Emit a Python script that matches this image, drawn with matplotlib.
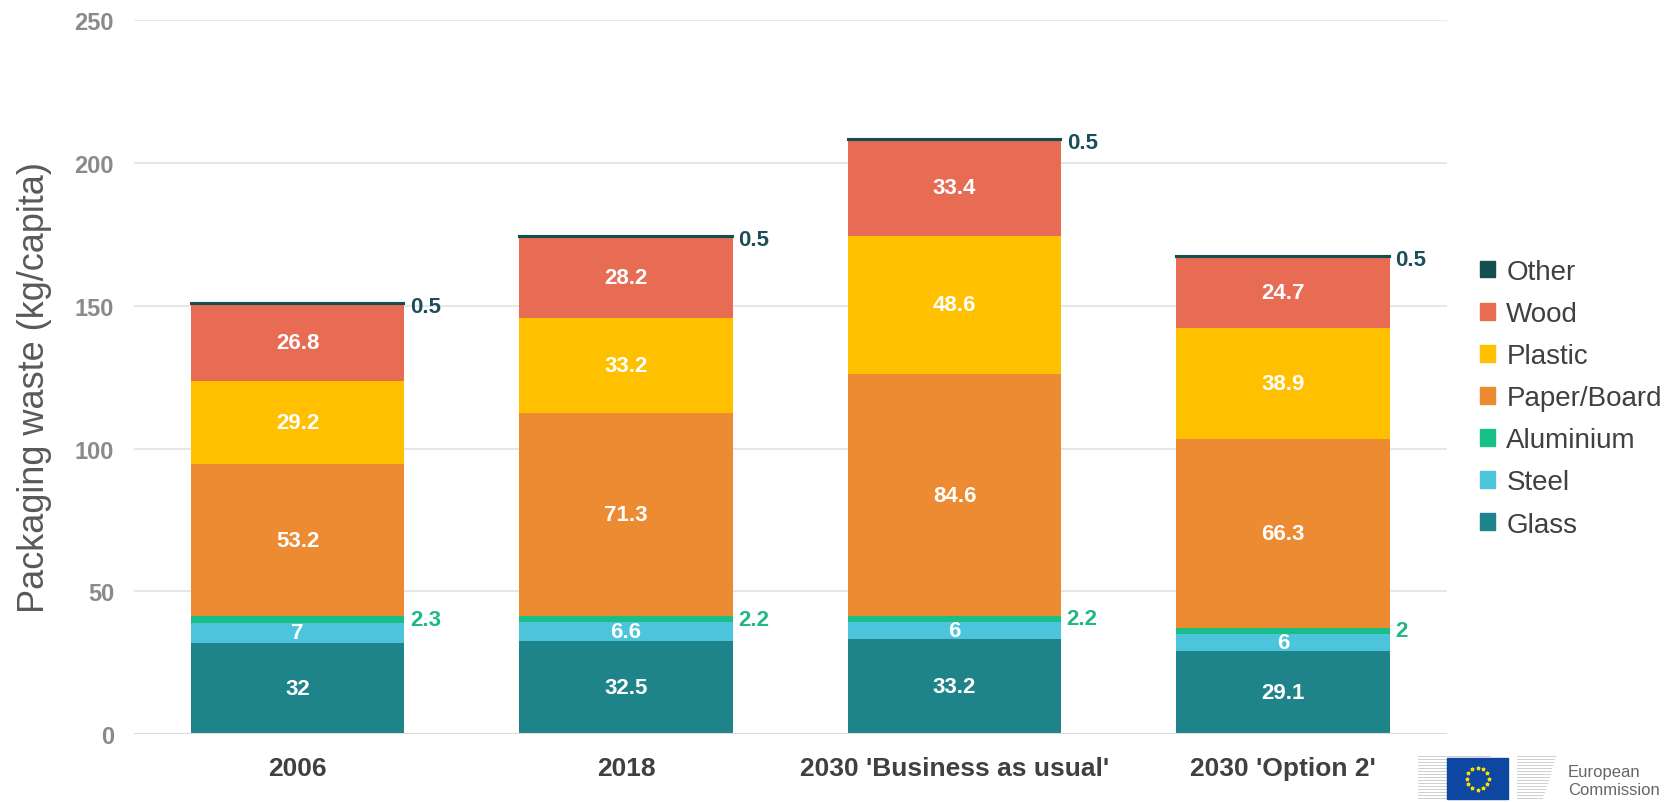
"""Packaging waste per capita by material, stacked bars."""

import matplotlib

matplotlib.use("Agg")
import matplotlib.pyplot as plt
import numpy as np
from matplotlib.patches import Patch, Rectangle

plt.rcParams["font.family"] = ["Liberation Sans", "DejaVu Sans"]

scenarios = ["2006", "2018", "2030 'Business as usual'", "2030 'Option 2'"]
materials = ["Glass", "Steel", "Aluminium", "Paper/Board", "Plastic", "Wood", "Other"]
glass = [32, 32.5, 33.2, 29.1]
steel = [7, 6.6, 6, 6]
aluminium = [2.3, 2.2, 2.2, 2]
paper = [53.2, 71.3, 84.6, 66.3]
plastic = [29.2, 33.2, 48.6, 38.9]
wood = [26.8, 28.2, 33.4, 24.7]
other = [0.5, 0.5, 0.5, 0.5]
series = [glass, steel, aluminium, paper, plastic, wood, other]
colors = ["#1f8489", "#4bc4dc", "#1abf87", "#ec8b31", "#ffc000", "#e86b54", "#134f4f"]
outside = {"Aluminium": ("#22b886", 0), "Other": ("#1d4e5c", -2)}

fig = plt.figure(figsize=(16.75, 8.03), dpi=100)
ax = fig.add_axes([133.5 / 1675, 68 / 803, (1447 - 133.5) / 1675, 713.6 / 803])

x = np.arange(len(scenarios))
width = 0.65
bottom = np.zeros(len(scenarios))
for name, vals, col in zip(materials, series, colors):
    vals = np.array(vals, dtype=float)
    lw = 1.5 if name == "Other" else 0
    ax.bar(x, vals, width, bottom=bottom, color=col, edgecolor=col, linewidth=lw, zorder=2)
    for xi, b, v in zip(x, bottom, vals):
        lbl = f"{v:g}"
        if name in outside:
            c, dy = outside[name]
            ax.annotate(lbl, (xi + width / 2, b + v / 2), xytext=(4, dy),
                        textcoords="offset points", ha="left", va="center",
                        fontsize=16, fontweight="bold", color=c, zorder=4)
        else:
            ax.text(xi, b + v / 2, lbl, ha="center", va="center", fontsize=16,
                    fontweight="bold", color="white", zorder=4)
    bottom += vals

ax.set_xlim(-0.5, 3.5)
ax.set_ylim(0, 250)
ax.set_yticks(range(0, 251, 50))
ax.grid(axis="y", color="#e3e3e3", lw=1.2, zorder=0)
ax.axhline(0, color="#dcdcdc", lw=1.5, zorder=3)
for s in ax.spines.values():
    s.set_visible(False)
ax.tick_params(axis="both", length=0)
ax.tick_params(axis="y", pad=14, labelsize=17, labelcolor="#8a8a8a")
ax.tick_params(axis="x", pad=16, labelsize=19, labelcolor="#404040")
for t in ax.get_yticklabels() + ax.get_xticklabels():
    t.set_fontweight("bold")
ax.set_xticks(x, scenarios)
ax.set_ylabel("Packaging waste (kg/capita)", fontsize=26, color="#595959")
ax.yaxis.set_label_coords(-0.062, 0.487)

handles = [Patch(color=c, label=m) for m, c in zip(materials, colors)][::-1]
fig.legend(handles=handles, loc="upper left", bbox_to_anchor=(1466 / 1675, 1 - 246 / 803),
           frameon=False, fontsize=20, handlelength=0.55, handleheight=0.55,
           handletextpad=0.4, labelspacing=0.58, borderpad=0, labelcolor="#404040")

# European Commission logo, simplified
lax = fig.add_axes([1415 / 1675, 0, 260 / 1675, 60 / 803])
lax.set_xlim(1415, 1675)
lax.set_ylim(803, 743)
lax.axis("off")
for yy in np.arange(757, 801, 3):
    lax.plot([1418, 1490], [yy, yy], color="#cfcfcf", lw=0.7)
    lax.plot([1517, 1555 - (yy - 757) * 0.3], [yy, yy], color="#cfcfcf", lw=0.7)
lax.add_patch(Rectangle((1447, 759), 61, 41, color="#0e47a1", zorder=3))
ang = np.linspace(0, 2 * np.pi, 12, endpoint=False)
lax.scatter(1477.5 + 11 * np.cos(ang), 779.5 + 11 * np.sin(ang), s=5, marker="*",
            color="#ffdd00", zorder=4)
lax.text(1568, 773, "European", fontsize=12, color="#666666", va="center")
lax.text(1568, 791, "Commission", fontsize=12, color="#666666", va="center")

fig.savefig("out.png", dpi=100)
